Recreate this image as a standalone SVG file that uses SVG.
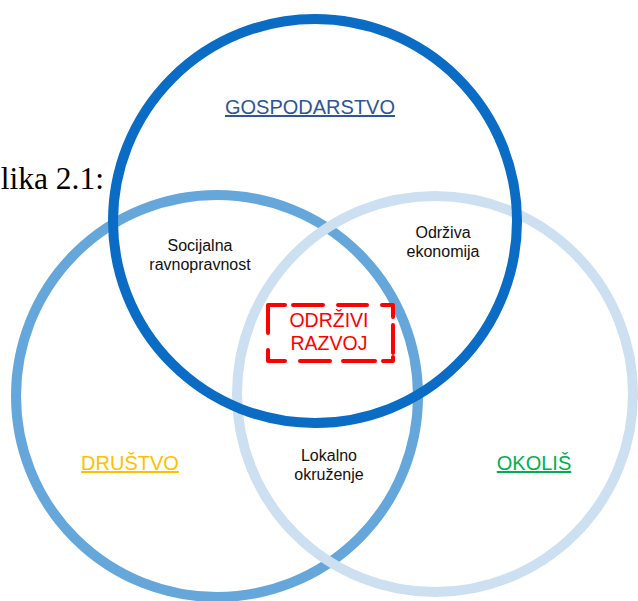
<svg xmlns="http://www.w3.org/2000/svg" width="638" height="601" viewBox="0 0 638 601">
  <style>
    .ring { fill: none; stroke-width: 10; }
    .lbl { font-family: "Liberation Sans", Arial, sans-serif; font-size: 16px; fill: #111; text-anchor: middle; }
    .title { font-family: "Liberation Sans", Arial, sans-serif; font-size: 20px; text-anchor: middle; text-decoration: underline; }
    .core { font-family: "Liberation Sans", Arial, sans-serif; font-size: 19.5px; fill: #FF0000; text-anchor: middle; }
    .dash { fill: none; stroke: #FF0000; stroke-width: 4; stroke-linecap: round; stroke-linejoin: round; }
  </style>
  <rect width="638" height="601" fill="#ffffff"/>
  <text x="104" y="189" font-family="Liberation Serif, Times New Roman, serif" font-size="31.5" fill="#000" text-anchor="end">lika 2.1:</text>
  <g id="drustvo">
    <circle class="ring" cx="217" cy="396" r="201" stroke="#66A7DB"/>
  </g>
  <g id="okolis">
    <circle class="ring" cx="435" cy="394" r="198" stroke="#CCE0F2"/>
  </g>
  <g id="gospodarstvo">
    <circle class="ring" cx="315" cy="221" r="202" stroke="#0A6CC4"/>
  </g>
  <g id="labels">
    <text class="title" x="310" y="114" fill="#2E5597">GOSPODARSTVO</text>
    <text class="title" x="130" y="470" fill="#FFC000">DRUŠTVO</text>
    <text class="title" x="534" y="470" fill="#00B050">OKOLIŠ</text>
  </g>
  <g id="socijalna">
    <text class="lbl" x="200" y="251">Socijalna</text>
    <text class="lbl" x="200" y="270">ravnopravnost</text>
  </g>
  <g id="odrziva-ekonomija">
    <text class="lbl" x="443" y="238">Održiva</text>
    <text class="lbl" x="443" y="257">ekonomija</text>
  </g>
  <g id="lokalno">
    <text class="lbl" x="329" y="461">Lokalno</text>
    <text class="lbl" x="329" y="480">okruženje</text>
  </g>
  <g id="odrzivi-razvoj">
    <path class="dash" d="M268,333 V305 H285 M293,305 H323 M338,305 H367 M382,305 H393 V317 M393,325 V353 M393,357 V361 H383 M375,361 H343 M330,361 H300 M285,361 H268 V350"/>
    <text class="core" x="329" y="327">ODRŽIVI</text>
    <text class="core" x="329" y="350">RAZVOJ</text>
  </g>
</svg>
